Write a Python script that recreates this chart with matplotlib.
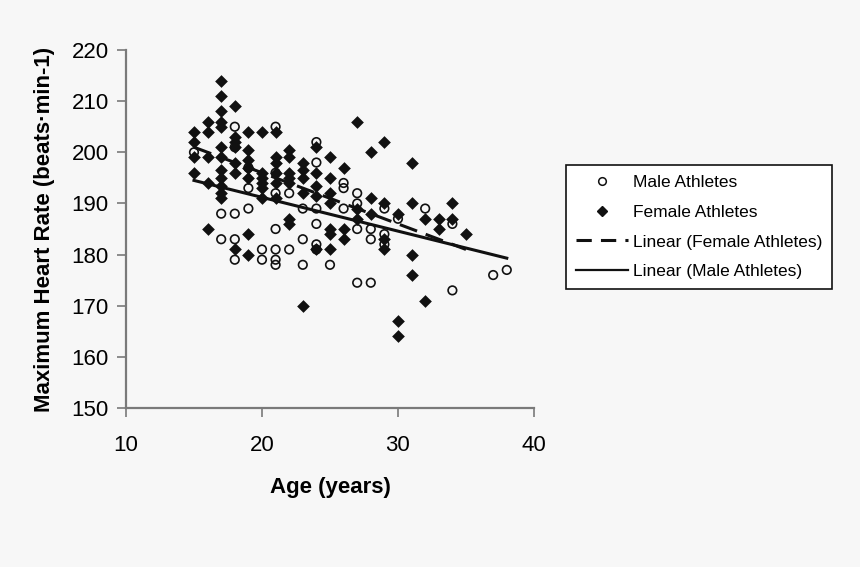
import matplotlib.pyplot as plt
from matplotlib.lines import Line2D

# values
female_age = [15, 15, 15, 15,
              16, 16, 16, 16, 16,
              17, 17, 17, 17, 17, 17, 17, 17, 17, 17, 17, 17,
              18, 18, 18, 18, 18, 18, 18,
              19, 19, 19, 19, 19, 19, 19,
              20, 20, 20, 20, 20, 20,
              21, 21, 21, 21, 21, 21,
              22, 22, 22, 22, 22, 22, 22,
              23, 23, 23, 23, 23,
              24, 24, 24, 24, 24,
              25, 25, 25, 25, 25, 25, 25,
              26, 26, 26,
              27, 27, 27,
              28, 28, 28,
              29, 29, 29, 29,
              30, 30, 30,
              31, 31, 31, 31,
              32, 32,
              33, 33,
              34, 34,
              35]
female_hr = [204, 202, 199, 196,
             206, 204, 199, 194, 185,
             214, 211, 208, 206, 205, 201, 199, 196.5, 195, 193.5, 192, 191,
             209, 203, 202, 201, 198, 196, 181,
             204, 200.5, 198.5, 197, 195, 184, 180,
             204, 196, 195, 194, 193, 191,
             204, 199, 198, 196, 194, 191,
             200.5, 199, 196, 195, 194, 187, 186,
             198, 196.5, 195, 192, 170,
             201, 196, 193.5, 191.5, 181,
             199, 195, 192, 190, 185, 184, 181,
             197, 185, 183,
             206, 189, 187,
             200, 191, 188,
             202, 190, 183, 181,
             188, 167, 164,
             198, 190, 180, 176,
             187, 171,
             187, 185,
             190, 187,
             184]

male_age = [15,
            17, 17,
            18, 18, 18, 18, 18,
            19, 19, 19,
            20, 20,
            21, 21, 21, 21, 21, 21, 21,
            22, 22,
            23, 23, 23,
            24, 24, 24, 24, 24, 24,
            25,
            26, 26, 26,
            27, 27, 27, 27,
            28, 28, 28,
            29, 29, 29,
            30,
            32,
            34, 34,
            37, 38]
male_hr = [200,
           188, 183,
           205, 201, 188, 183, 179,
           197, 193, 189,
           181, 179,
           205, 196, 192, 185, 181, 179, 178,
           192, 181,
           189, 183, 178,
           202, 198, 189, 186, 182, 181,
           178,
           194, 193, 189,
           192, 190, 185, 174.5,
           185, 183, 174.5,
           189, 184, 182,
           187,
           189,
           186, 173,
           176, 177]

# trend line end points
female_fit_age = [15, 35]
female_fit_hr = [201, 181]
male_fit_age = [15, 38]
male_fit_hr = [194.5, 179.3]

bg = "#f7f7f7"
plt.rcParams["font.family"] = ["Liberation Sans", "DejaVu Sans"]

fig = plt.figure(figsize=(8.6, 5.67), dpi=100, facecolor=bg)
ax = fig.add_axes([0.1465, 0.2804, 0.4744, 0.6314], facecolor=bg)

ax.scatter(male_age, male_hr, marker="o", s=38, facecolors="none",
           edgecolors="#111111", linewidths=1.2, zorder=3)
ax.scatter(female_age, female_hr, marker="D", s=42, color="#111111",
           linewidths=0, zorder=3)
ax.plot(female_fit_age, female_fit_hr, color="#111111", lw=2.2,
        linestyle=(0, (6, 3)), zorder=4)
ax.plot(male_fit_age, male_fit_hr, color="#111111", lw=2.2, zorder=4)

ax.set_xlim(10, 40)
ax.set_ylim(150, 220)
ax.set_xticks([10, 20, 30, 40])
ax.set_yticks(range(150, 221, 10))
for s in ["top", "right"]:
    ax.spines[s].set_visible(False)
for s in ["left", "bottom"]:
    ax.spines[s].set_color("#7a7a7a")
    ax.spines[s].set_linewidth(1.6)
ax.tick_params(direction="out", length=6.5, width=1.2, color="#7a7a7a",
               labelsize=16)
ax.tick_params(axis="x", pad=13)
ax.tick_params(axis="y", pad=6)
ax.set_xlabel("Age (years)", fontsize=16, fontweight="bold", labelpad=15)
ax.set_ylabel("Maximum Heart Rate (beats\u00b7min-1)", fontsize=16,
              fontweight="bold", labelpad=12)

handles = [
    Line2D([], [], marker="o", linestyle="none", markerfacecolor="none",
           markeredgecolor="#111111", markersize=5.5, markeredgewidth=1.1),
    Line2D([], [], marker="D", linestyle="none", color="#111111", markersize=5.5),
    Line2D([], [], color="#111111", lw=2.2, linestyle=(0, (5, 3))),
    Line2D([], [], color="#111111", lw=1.6),
]
labels = ["Male Athletes", "Female Athletes", "Linear (Female Athletes)",
          "Linear (Male Athletes)"]
leg = fig.legend(handles, labels, loc="upper left",
                 bbox_to_anchor=(566 / 860, 1 - 165 / 567), fontsize=12.5,
                 frameon=True, fancybox=False, edgecolor="#111111",
                 facecolor="white", framealpha=1, handlelength=3.0,
                 handletextpad=0.3, borderpad=0.55, labelspacing=0.85,
                 borderaxespad=0)
leg.get_frame().set_linewidth(1.2)

fig.savefig("out.png", dpi=100, facecolor=bg)
